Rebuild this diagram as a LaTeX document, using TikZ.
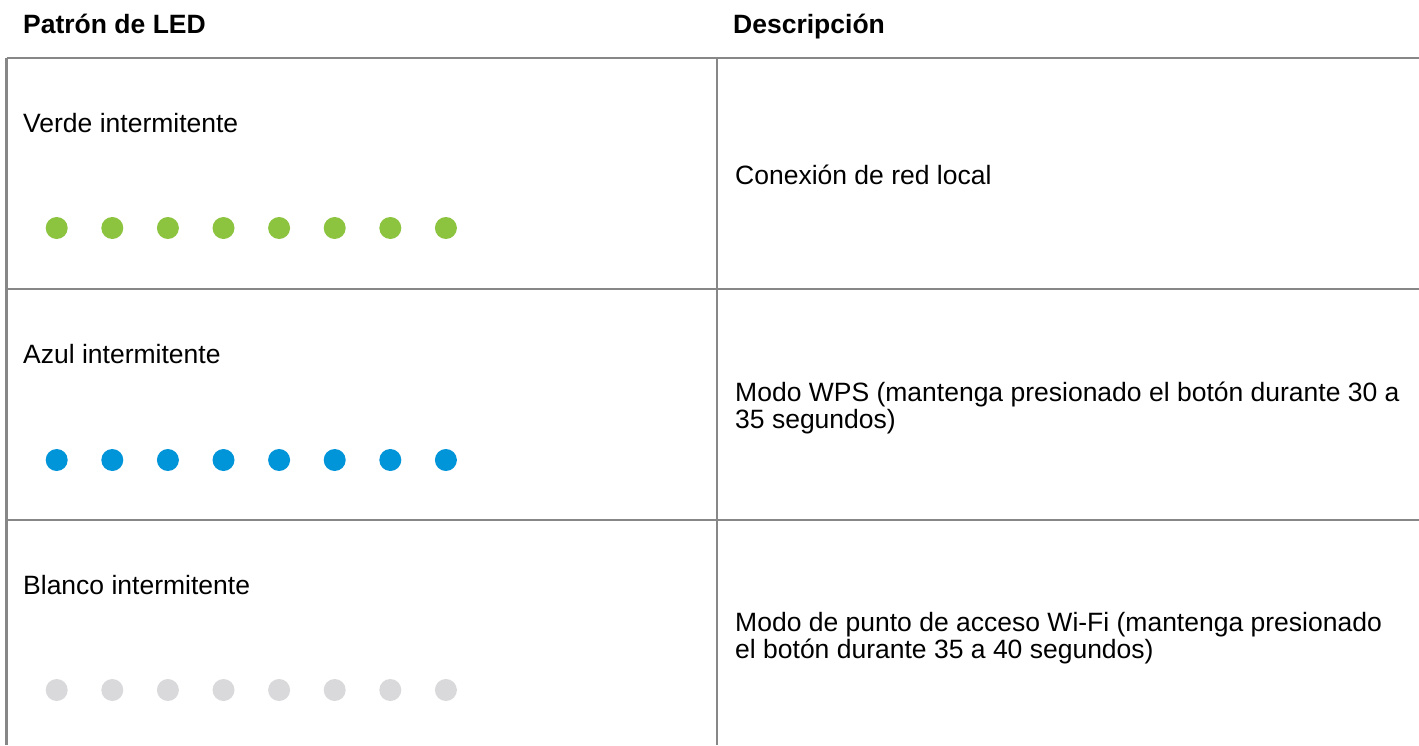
\documentclass[tikz,border=0pt]{standalone}
\usepackage{fontspec}
\setmainfont{Liberation Sans}
\definecolor{rule}{HTML}{878787}
\definecolor{ledgreen}{HTML}{8CC43F}
\definecolor{ledblue}{HTML}{0094D9}
\definecolor{ledwhite}{HTML}{D9D9DB}
\tikzset{
  grid/.style={draw=rule,line width=2.4pt},
  head/.style={anchor=base west,inner sep=0pt,font=\fontsize{26.5}{27}\selectfont\bfseries},
  txt/.style={anchor=base west,inner sep=0pt,font=\fontsize{26.5}{27}\selectfont},
  desc/.style={anchor=west,inner sep=0pt,align=left,font=\fontsize{26.5}{27}\selectfont},
  led/.style={circle,inner sep=0pt,minimum size=22pt,draw=none},
}
\begin{document}
\begin{tikzpicture}[x=1pt,y=-1pt]
\useasboundingbox (0,0) rectangle (1419,745);
% headers
\node[head] (h1) at (23,33) {Patrón de LED};
\node[head] (h2) at (733,33) {Descripción};
% grid
\coordinate (tl) at (6.5,58);
\coordinate (tr) at (1419,58);
\coordinate (bl) at (6.5,745);
\coordinate (tm) at (717,58);
\coordinate (bm) at (717,745);
\coordinate (r1l) at (6.5,289);
\coordinate (r1r) at (1419,289);
\coordinate (r2l) at (6.5,520);
\coordinate (r2r) at (1419,520);
\draw[grid] (tl) -- (tr);
\draw[grid] (tl) -- (bl);
\draw[grid] (tm) -- (bm);
\draw[grid] (r1l) -- (r1r);
\draw[grid] (r2l) -- (r2r);
% row labels
\node[txt] (l1) at (23,132) {Verde intermitente};
\node[txt] (l2) at (23,363) {Azul intermitente};
\node[txt] (l3) at (23,594) {Blanco intermitente};
% descriptions
\node[desc] (d1) at (735,175) {Conexión de red local};
\node[desc] (d2) at (735,407.5) {Modo WPS (mantenga presionado el botón durante 30 a\\35 segundos)};
\node[desc] (d3) at (735,638) {Modo de punto de acceso Wi-Fi (mantenga presionado\\el botón durante 35 a 40 segundos)};
% LEDs
\foreach \i in {0,...,7} {
  \node[led,fill=ledgreen] (g\i) at ({56.7+55.6*\i},228) {};
  \node[led,fill=ledblue] (b\i) at ({56.7+55.6*\i},460) {};
  \node[led,fill=ledwhite] (w\i) at ({56.7+55.6*\i},690) {};
}
\end{tikzpicture}
\end{document}
